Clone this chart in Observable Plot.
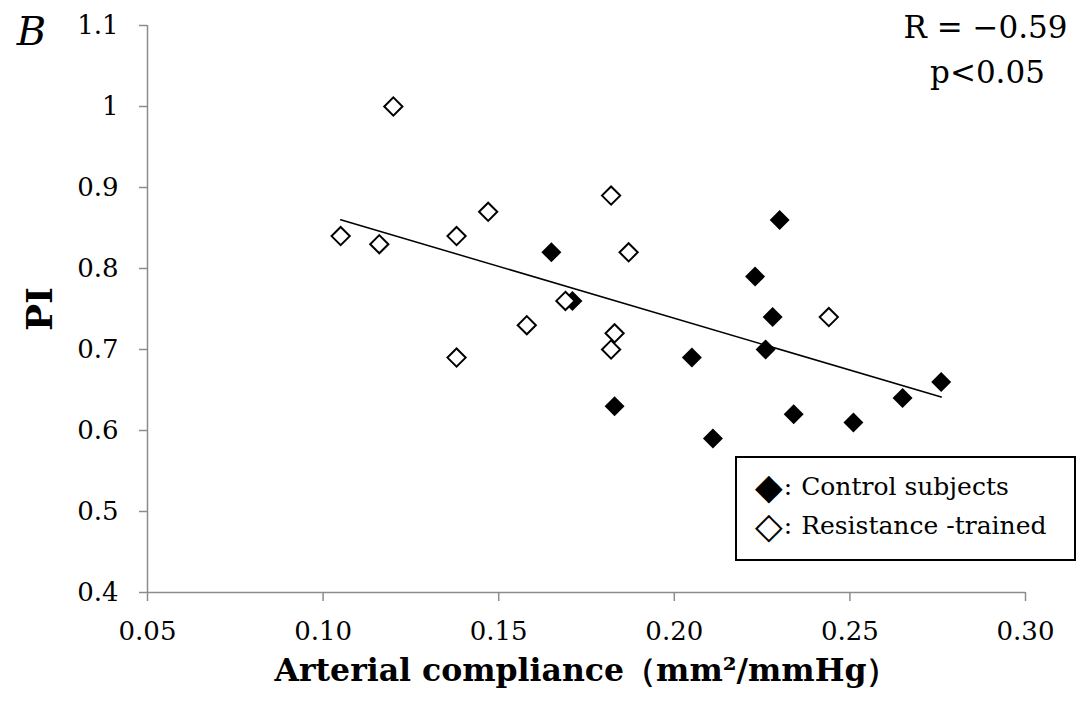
<!DOCTYPE html>
<html><head><meta charset="utf-8">
<script src="https://cdn.jsdelivr.net/npm/d3@7"></script>
<script src="https://cdn.jsdelivr.net/npm/@observablehq/plot@0.6"></script>
<style>
body{margin:0;background:#fff;}
#wrap{position:relative;width:1084px;height:702px;font-family:"DejaVu Serif",serif;}
#legend{position:absolute;left:735px;top:456px;width:341px;height:105px;box-sizing:border-box;border:2px solid #000;background:#fff;font-size:25px;color:#000;}
#legend .row{position:absolute;left:18px;height:30px;white-space:nowrap;line-height:30px;display:flex;align-items:center;}
#legend .sym{font-family:"DejaVu Sans",sans-serif;font-size:36px;line-height:30px;display:inline-block;}
#legend .col{display:inline-block;margin-left:1px;margin-right:9px;}
</style></head><body><div id="wrap"></div>
<script>
// Control subjects (filled diamonds)
const controlX = [0.165, 0.171, 0.183, 0.205, 0.211, 0.230, 0.223, 0.228, 0.226, 0.234, 0.251, 0.265, 0.276];
const controlY = [0.82, 0.76, 0.63, 0.69, 0.59, 0.86, 0.79, 0.74, 0.70, 0.62, 0.61, 0.64, 0.66];
// Resistance-trained (open diamonds)
const trainedX = [0.120, 0.105, 0.116, 0.138, 0.147, 0.182, 0.187, 0.169, 0.158, 0.183, 0.182, 0.138, 0.244];
const trainedY = [1.00, 0.84, 0.83, 0.84, 0.87, 0.89, 0.82, 0.76, 0.73, 0.72, 0.70, 0.69, 0.74];
const xTicks = [0.05, 0.10, 0.15, 0.20, 0.25, 0.30];
const yTicks = [0.4, 0.5, 0.6, 0.7, 0.8, 0.9, 1.0, 1.1];
const xLabel = "Arterial compliance（mm²/mmHg）";
const yLabel = "PI";
const panelLabel = "B";
const statR = "R = −0.59";
const statP = "p<0.05";
const legendLabels = ["Control subjects", "Resistance -trained"];

const control = controlX.map((x, i) => ({x, y: controlY[i]}));
const trained = trainedX.map((x, i) => ({x, y: trainedY[i]}));
const all = control.concat(trained);
const axisGray = "#8c8c8c";

const chart = Plot.plot({
  width: 1084, height: 702,
  marginLeft: 147, marginRight: 59, marginTop: 25, marginBottom: 110,
  style: {fontFamily: "DejaVu Serif, serif", fontSize: "26px", background: "white", color: "black", overflow: "visible"},
  x: {domain: [0.05, 0.30]},
  y: {domain: [0.4, 1.1]},
  marks: [
    Plot.ruleX([0.05], {stroke: axisGray, strokeWidth: 1.5}),
    Plot.ruleY([0.4], {stroke: axisGray, strokeWidth: 1.5}),
    Plot.axisX({ticks: xTicks, tickFormat: d3.format(".2f"), tickSize: 9, tickPadding: 20, stroke: axisGray, fill: "black", strokeWidth: 1.5, fontSize: 26, label: null}),
    Plot.axisY({ticks: yTicks, tickFormat: d => String(+d.toFixed(1)), tickSize: 8, tickPadding: 21, stroke: axisGray, fill: "black", strokeWidth: 1.5, fontSize: 26, label: null}),
    Plot.dot(control, {x: "x", y: "y", symbol: "diamond2", r: 9, fill: "black", stroke: "none"}),
    Plot.dot(trained, {x: "x", y: "y", symbol: "diamond2", r: 8.2, fill: "white", stroke: "black", strokeWidth: 2}),
    Plot.linearRegressionY(all, {x: "x", y: "y", ci: 0, stroke: "black", strokeWidth: 1.5}),
    Plot.text([xLabel], {frameAnchor: "bottom", textAnchor: "middle", lineAnchor: "middle", dy: 78, fontSize: 31.5, fontWeight: "bold", fill: "black"}),
    Plot.text([yLabel], {frameAnchor: "left", textAnchor: "middle", lineAnchor: "middle", dx: -107, rotate: -90, fontSize: 36, fontWeight: "bold", fill: "black"}),
    Plot.text([panelLabel], {frameAnchor: "top-left", textAnchor: "middle", lineAnchor: "middle", dx: -116, dy: 7, fontSize: 40, fontStyle: "italic", fill: "black"}),
    Plot.text([statR], {frameAnchor: "top-right", textAnchor: "middle", lineAnchor: "middle", dx: -40, dy: 3, fontSize: 31, fill: "black"}),
    Plot.text([statP], {frameAnchor: "top-right", textAnchor: "middle", lineAnchor: "middle", dx: -38, dy: 48, fontSize: 31, fill: "black"})
  ]
});
const wrap = document.getElementById("wrap");
wrap.appendChild(chart);
const legend = document.createElement("div");
legend.id = "legend";
legend.innerHTML = `<div class="row" style="top:14px"><span class="sym">◆</span><span class="col">:</span>${legendLabels[0]}</div>` +
  `<div class="row" style="top:53px"><span class="sym">◇</span><span class="col">:</span>${legendLabels[1]}</div>`;
wrap.appendChild(legend);
</script>
</body></html>
